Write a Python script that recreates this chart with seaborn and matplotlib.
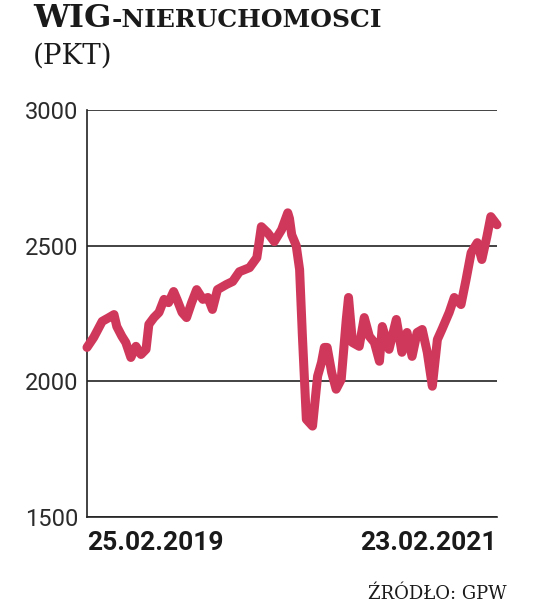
import numpy as np
import pandas as pd
import matplotlib
matplotlib.use("Agg")
import matplotlib.pyplot as plt
import seaborn as sns

# ---- data ----
start_date = "2019-02-25"
day_offsets = [0, 12, 27, 39, 48, 53, 62, 69, 78, 87, 96, 105, 110, 119, 128, 137, 145,
               154, 160, 169, 177, 186, 195, 206, 215, 223, 232, 248, 259, 271, 289, 302,
               310, 321, 333, 346, 357, 360, 364, 372, 378, 383, 390, 401, 410, 417, 422,
               427, 435, 443, 452, 461, 465, 472, 484, 493, 502, 511, 520, 525, 537, 550,
               560, 569, 578, 587, 596, 605, 614, 623, 631, 644, 653, 665, 674, 683, 694,
               702, 711, 718, 729]
index_values = [2125, 2162, 2221, 2235, 2246, 2202, 2166, 2143, 2088, 2129, 2099, 2118, 2210,
                2235, 2254, 2302, 2290, 2331, 2302, 2254, 2235, 2290, 2338, 2302, 2309, 2265,
                2338, 2357, 2368, 2404, 2419, 2456, 2570, 2548, 2515, 2559, 2621, 2600, 2540,
                2500, 2412, 2166, 1860, 1835, 2019, 2070, 2125, 2125, 2033, 1971, 2007, 2228,
                2309, 2143, 2129, 2235, 2166, 2143, 2074, 2202, 2118, 2228, 2107, 2180, 2092,
                2180, 2191, 2107, 1982, 2154, 2191, 2254, 2309, 2283, 2375, 2474, 2511, 2449,
                2533, 2607, 2577]
y_ticks = [1500, 2000, 2500, 3000]
x_tick_dates = ["2019-02-25", "2021-02-23"]
x_tick_labels = ["25.02.2019", "23.02.2021"]
title_main = "WIG"
title_rest = "-NIERUCHOMOSCI"
unit_label = "(PKT)"
source_label = "ŹRÓDŁO: GPW"

LINE_COLOR = "#d0385b"

sns.set_theme(style="white")
plt.rcParams['font.family'] = ['DejaVu Sans']

fig = plt.figure(figsize=(5.36, 6.04), dpi=100)
ax = fig.add_axes([87 / 536, 87 / 604, 410 / 536, 407 / 604])

df = pd.DataFrame({
    "date": pd.to_datetime(start_date) + pd.to_timedelta(day_offsets, unit="D"),
    "value": index_values,
})

sns.lineplot(data=df, x="date", y="value", ax=ax, color=LINE_COLOR, lw=6.5,
             solid_joinstyle="round", solid_capstyle="round", clip_on=False, zorder=3)

ax.set_ylim(1500, 3000)
ax.set_xlim(pd.Timestamp(x_tick_dates[0]), pd.Timestamp(x_tick_dates[1]))
ax.set_xlabel("")
ax.set_ylabel("")

for s in ["top", "right"]:
    ax.spines[s].set_visible(False)
for s in ["left", "bottom"]:
    ax.spines[s].set_color("#222222")
    ax.spines[s].set_linewidth(1.2)

ax.set_yticks(y_ticks)
ax.yaxis.grid(True, color="#222222", lw=1.2)
ax.xaxis.grid(False)
ax.set_axisbelow(True)

ax.set_yticklabels([str(t) for t in y_ticks], family=["Roboto", "DejaVu Sans"],
                   fontsize=17, fontweight="normal", color="#2b2b2b")
ax.set_xticks(pd.to_datetime(x_tick_dates))
ax.set_xticklabels(x_tick_labels, family=["Roboto", "DejaVu Sans"],
                   fontsize=19, fontweight="bold", color="#1a1a1a")
xl = ax.get_xticklabels()
xl[0].set_horizontalalignment("left")
xl[1].set_horizontalalignment("right")
ax.tick_params(axis="both", length=0)
ax.tick_params(axis="y", pad=6)
ax.tick_params(axis="x", pad=10)

# ---- titles ----
fig.text(33 / 536, 1 - 27 / 604, title_main, family="DejaVu Serif", fontweight="bold",
         fontsize=23, color="#1a1a1a", va="baseline", ha="left")
fig.text(112 / 536, 1 - 27 / 604, title_rest, family="DejaVu Serif", fontweight="bold",
         fontsize=18, color="#1a1a1a", va="baseline", ha="left")
fig.text(33 / 536, 1 - 64 / 604, unit_label, family="DejaVu Serif",
         fontsize=20, color="#1a1a1a", va="baseline", ha="left")
fig.text(507 / 536, 1 - 599 / 604, source_label, family="DejaVu Serif",
         fontsize=13, color="#1a1a1a", va="baseline", ha="right")

fig.savefig("out.png", dpi=100, facecolor="white")
